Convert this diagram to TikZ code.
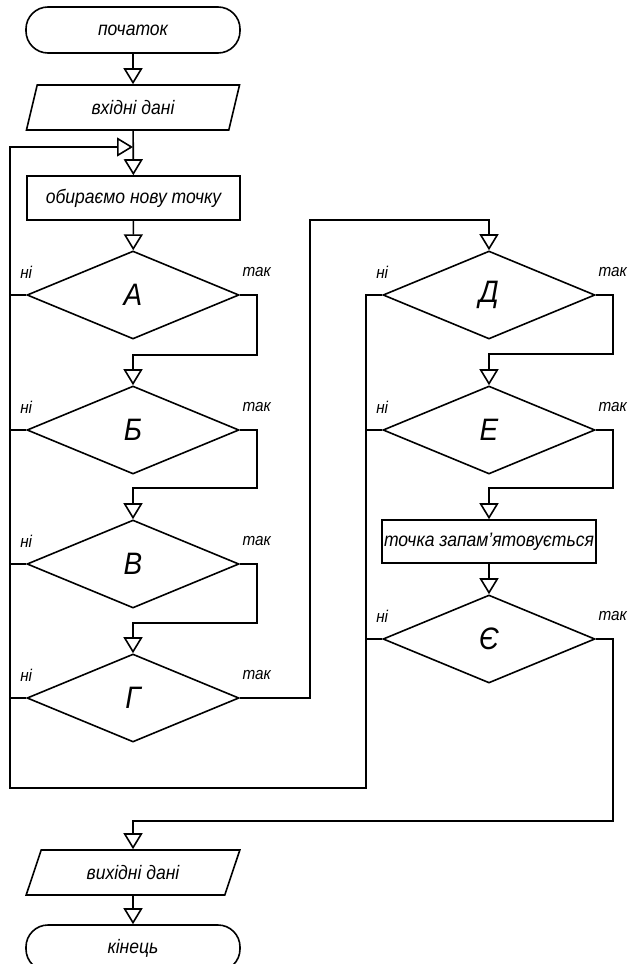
\documentclass[tikz,border=0pt]{standalone}
\usepackage{fontspec}
\setmainfont{Liberation Sans}
\newfontfamily\gost[FakeStretch=0.9]{Liberation Sans}
\usetikzlibrary{arrows.meta,shapes.geometric}
\begin{document}
\begin{tikzpicture}[x=1pt,y=-1pt,
  line width=1.6pt,
  every node/.style={font=\gost\itshape\fontsize{19.5}{22}\selectfont, inner sep=0pt, line width=1.6pt},
  term/.style={draw, rectangle, rounded corners=22pt, minimum width=214pt, minimum height=46pt},
  io/.style={draw, trapezium, trapezium stretches=true, minimum height=45pt},
  proc/.style={draw, rectangle, minimum width=213pt, minimum height=44pt},
  cond/.style={draw, diamond, minimum width=212pt, minimum height=88pt, font=\gost\itshape\fontsize{31}{33}\selectfont},
  lbl/.style={font=\gost\itshape\fontsize{17}{19}\selectfont},
  arr/.style={-{Triangle[open,length=16pt,width=19pt]}}]
\useasboundingbox (0,0) rectangle (630,964);
\fill[white] (0,0) rectangle (630,964);

\node[term] (start) at (133,30) {початок};
\node[io, minimum width=214pt, trapezium left angle=72, trapezium right angle=108] (inp) at (133,107.5) {вхідні дані};
\node[proc] (sel) at (133.5,198) {обираємо нову точку};
\node[cond] (A) at (133,295) {А};
\node[cond] (B) at (133,430) {Б};
\node[cond] (V) at (133,564) {В};
\node[cond] (G) at (133,698) {Г};
\node[cond] (D) at (489,295) {Д};
\node[cond] (E) at (489,430) {Е};
\node[proc, minimum width=214pt, minimum height=43pt] (mem) at (489,541.5) {точка запам’ятовується};
\node[cond] (YE) at (489,639) {Є};
\node[io, minimum width=214pt, trapezium left angle=62, trapezium right angle=118] (out) at (133,872.5) {вихідні дані};
\node[term] (fin) at (133,948) {кінець};

% labels
\foreach \n in {A,B,V,G,D,E,YE}{
  \node[lbl] (\n no) at ([yshift=23pt]\n.west) {ні};
  \node[lbl] (\n yes) at ([xshift=17pt,yshift=23pt]\n.east) {так};
}

% junction coordinates
\coordinate (loopin) at (133,147);
\coordinate (ab) at (257,355);
\coordinate (bv) at (257,488);
\coordinate (vg) at (257,623);
\coordinate (gd) at (310,220);
\coordinate (de) at (613,354);
\coordinate (em) at (613,488);
\coordinate (yo) at (613,821);
\coordinate (lx) at (10,788);
\coordinate (rx) at (366,788);

% main flow
\draw[arr] (start) -- (inp);
\draw[arr] (inp) -- (sel);
\draw[arr] (sel) -- (A);
\draw[arr] (A.east) -| (ab) -| (B.north);
\draw[arr] (B.east) -| (bv) -| (V.north);
\draw[arr] (V.east) -| (vg) -| (G.north);
\draw[arr] (G.east) -| (gd) -| (D.north);
\draw[arr] (D.east) -| (de) -| (E.north);
\draw[arr] (E.east) -| (em) -| (mem.north);
\draw[arr] (mem) -- (YE);
\draw[arr] (YE.east) -| (yo) -| (out.north);
\draw[arr] (out) -- (fin);

% loop back
\draw[arr] (D.west) -| (rx) -- (lx) |- (loopin);
\draw (A.west) -- (A.west -| lx);
\draw (B.west) -- (B.west -| lx);
\draw (V.west) -- (V.west -| lx);
\draw (G.west) -- (G.west -| lx);
\draw (E.west) -- (E.west -| rx);
\draw (YE.west) -- (YE.west -| rx);
\end{tikzpicture}
\end{document}
